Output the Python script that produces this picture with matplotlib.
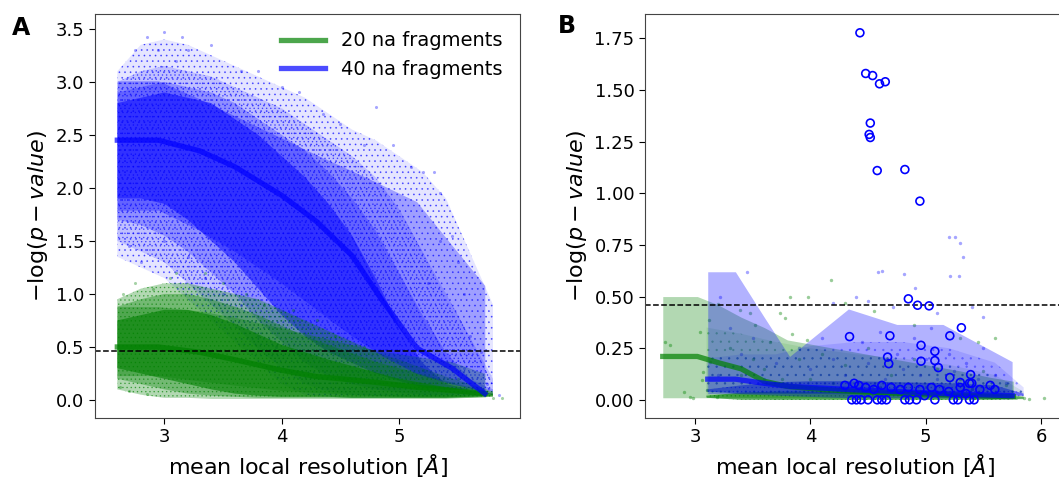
import matplotlib.pyplot as plt
from matplotlib.colors import to_rgb

# ---------------- panel A: binned summary curves ----------------
a_x = [2.60, 2.95, 3.30, 3.60, 4.00, 4.30, 4.60, 4.85, 5.15, 5.45, 5.73]
a_blue_mid = [2.45, 2.45, 2.35, 2.20, 1.93, 1.68, 1.36, 0.95, 0.49, 0.30, 0.06]
a_blue_lo = [1.79, 1.79, 1.60, 1.40, 1.10, 0.85, 0.60, 0.42, 0.25, 0.15, 0.08]
a_blue_hi = [3.01, 3.01, 2.84, 2.68, 2.47, 2.31, 2.16, 2.03, 1.87, 1.46, 1.08]
a_green_mid = [0.50, 0.50, 0.45, 0.38, 0.28, 0.22, 0.19, 0.16, 0.12, 0.09, 0.06]
a_green_lo = [0.23, 0.23, 0.18, 0.14, 0.09, 0.07, 0.05, 0.04, 0.03, 0.03, 0.03]
a_green_hi = [0.88, 0.88, 0.84, 0.78, 0.68, 0.60, 0.52, 0.46, 0.41, 0.36, 0.25]

cloud_x = [2.6, 2.8, 3.0, 3.2, 3.4, 3.6, 3.8, 4.0, 4.2, 4.4, 4.6, 4.8, 5.0, 5.2, 5.4, 5.6, 5.8]
a_blue_env = [
    ([1.35, 1.25, 1.15, 0.95, 0.75, 0.55, 0.35, 0.15, 0.05, 0.03, 0.02, 0.02, 0.02, 0.02, 0.02, 0.03, 0.05],
     [3.10, 3.35, 3.40, 3.35, 3.25, 3.15, 3.05, 2.95, 2.85, 2.70, 2.55, 2.45, 2.30, 2.15, 1.90, 1.40, 0.90]),
    ([1.50, 1.40, 1.30, 1.10, 0.90, 0.70, 0.48, 0.30, 0.15, 0.08, 0.05, 0.04, 0.03, 0.03, 0.03, 0.04, 0.06],
     [3.00, 3.10, 3.15, 3.10, 3.05, 2.95, 2.85, 2.75, 2.60, 2.45, 2.30, 2.10, 1.80, 1.40, 1.00, 0.60, 0.20]),
    ([1.70, 1.65, 1.55, 1.40, 1.20, 1.00, 0.75, 0.55, 0.35, 0.22, 0.15, 0.10, 0.07, 0.05, 0.05, 0.06, 0.08],
     [2.90, 2.95, 3.00, 2.95, 2.90, 2.80, 2.65, 2.50, 2.35, 2.15, 1.90, 1.60, 1.20, 0.80, 0.45, 0.20, 0.10]),
    ([1.90, 1.90, 1.85, 1.70, 1.50, 1.30, 1.05, 0.80, 0.60, 0.45, 0.35, 0.25, 0.18, 0.12, 0.10, 0.10, 0.10],
     [2.80, 2.85, 2.90, 2.85, 2.80, 2.65, 2.50, 2.30, 2.10, 1.85, 1.55, 1.15, 0.70, 0.35, 0.15, 0.10, 0.10]),
]
a_green_env = [
    ([0.10, 0.05, 0.02, 0.02, 0.01, 0.01, 0.01, 0.01, 0.01, 0.01, 0.01, 0.01, 0.01, 0.01, 0.01, 0.02, 0.03],
     [0.95, 1.05, 1.10, 1.10, 1.05, 1.00, 0.95, 0.85, 0.75, 0.65, 0.55, 0.45, 0.38, 0.30, 0.22, 0.15, 0.08]),
    ([0.20, 0.15, 0.10, 0.06, 0.04, 0.03, 0.02, 0.02, 0.02, 0.02, 0.02, 0.02, 0.02, 0.02, 0.02, 0.02, 0.03],
     [0.88, 0.95, 1.00, 1.00, 0.95, 0.88, 0.80, 0.70, 0.60, 0.52, 0.44, 0.36, 0.30, 0.24, 0.18, 0.12, 0.07]),
    ([0.30, 0.25, 0.20, 0.15, 0.10, 0.06, 0.04, 0.03, 0.03, 0.03, 0.02, 0.02, 0.02, 0.02, 0.02, 0.03, 0.04],
     [0.75, 0.80, 0.85, 0.85, 0.80, 0.72, 0.62, 0.52, 0.45, 0.38, 0.32, 0.26, 0.20, 0.16, 0.12, 0.09, 0.06]),
]
a_blue_env_alpha = [0.10, 0.16, 0.25, 0.50]
a_green_env_alpha = [0.30, 0.35, 0.60]

# panel A: isolated points at the cloud edges
a_blue_pts_x = [2.75, 2.85, 2.95, 3.00, 3.10, 3.20, 3.40, 3.15, 3.65, 3.80, 4.00, 4.15, 4.35, 4.50,
                4.70, 4.80, 4.95, 5.10, 5.20, 5.30, 5.35, 5.45, 5.50, 5.55, 5.35, 5.25, 5.60, 5.70,
                2.70, 2.80, 3.00, 3.20, 3.35, 3.50, 3.65, 3.80, 3.95, 5.55, 5.75, 5.85]
a_blue_pts_y = [3.30, 3.42, 3.30, 3.47, 3.20, 3.30, 3.35, 3.42, 3.10, 3.10, 2.95, 2.90, 2.70, 2.60,
                2.40, 2.76, 2.40, 2.20, 2.15, 2.15, 1.95, 1.55, 1.30, 1.00, 1.50, 1.10, 0.60, 0.45,
                1.45, 1.30, 1.50, 1.35, 1.15, 1.00, 0.90, 0.60, 0.50, 0.30, 0.15, 0.05]
a_green_pts_x = [2.65, 2.75, 2.90, 3.05, 3.10, 3.35, 3.50, 3.70, 3.85, 4.10, 4.30, 4.45, 4.70,
                 2.62, 2.70, 2.85, 5.80, 5.88, 5.50, 5.20]
a_green_pts_y = [1.00, 1.10, 1.05, 1.15, 1.20, 1.20, 1.10, 1.00, 0.90, 0.85, 0.75, 0.60, 0.50,
                 0.12, 0.08, 0.06, 0.02, 0.02, 0.20, 0.28]

# ---------------- panel B ----------------
b_green_x = [2.72, 3.02, 3.20, 3.40, 3.60, 3.80, 4.10, 4.40, 4.70, 5.00, 5.30, 5.55, 5.76]
b_green_mid = [0.21, 0.21, 0.18, 0.15, 0.09, 0.065, 0.05, 0.04, 0.033, 0.028, 0.022, 0.018, 0.015]
b_green_lo = [0.01] * 13
b_green_hi = [0.50, 0.50, 0.46, 0.40, 0.35, 0.29, 0.26, 0.23, 0.20, 0.17, 0.14, 0.11, 0.09]

b_blue_x = [3.11, 3.35, 3.60, 3.82, 4.33, 4.75, 5.15, 5.75]
b_blue_mid = [0.10, 0.10, 0.08, 0.065, 0.05, 0.04, 0.03, 0.02]
b_blue_lo = [0.03, 0.03, 0.025, 0.02, 0.01, 0.01, 0.01, 0.005]
b_blue_hi = [0.62, 0.62, 0.40, 0.21, 0.44, 0.365, 0.365, 0.185]

# panel B point clouds as envelopes: a loose haze and a dense strip near zero
haze_x = [3.1, 3.4, 3.7, 4.0, 4.4, 4.8, 5.2, 5.6, 5.85]
b_green_haze = ([0.01, 0.01, 0.0, 0.0, 0.0, 0.0, 0.0, 0.0, 0.0],
                [0.35, 0.32, 0.28, 0.25, 0.22, 0.20, 0.17, 0.12, 0.04])
b_blue_haze = ([0.04, 0.04, 0.03, 0.03, 0.02, 0.02, 0.02, 0.02, 0.02],
               [0.20, 0.22, 0.22, 0.26, 0.28, 0.28, 0.25, 0.18, 0.06])
b_green_strip = ([0.01, 0.0, 0.0, 0.0, 0.0, 0.0, 0.0, 0.0, 0.005],
                 [0.02, 0.035, 0.04, 0.04, 0.035, 0.035, 0.03, 0.025, 0.015])
b_blue_strip = ([0.04, 0.03, 0.03, 0.03, 0.03, 0.03, 0.025, 0.02, 0.02],
                [0.05, 0.07, 0.085, 0.09, 0.09, 0.085, 0.08, 0.07, 0.03])

b_blue_pts_x = [4.59, 4.62, 4.81, 4.91, 5.20, 5.255, 5.30, 5.32, 5.21, 5.29, 3.45, 4.50, 4.20, 4.40,
                4.72, 5.40, 5.50, 5.10, 3.22, 3.30, 3.50, 3.40, 3.70, 3.90, 4.00, 4.10, 4.20, 4.30,
                4.45, 4.50, 4.60, 4.65, 4.75, 4.80, 4.90, 4.95, 5.00, 5.05, 5.10, 5.20, 5.25, 5.35,
                5.45, 5.50, 5.60, 5.70, 3.20, 3.60, 3.80, 4.05, 4.25, 4.55, 4.85, 5.15, 5.40, 5.65]
b_blue_pts_y = [0.62, 0.625, 0.61, 0.54, 0.79, 0.79, 0.76, 0.69, 0.60, 0.60, 0.62, 0.48, 0.47, 0.50,
                0.45, 0.45, 0.40, 0.42, 0.50, 0.35, 0.30, 0.22, 0.18, 0.25, 0.15, 0.30, 0.20, 0.12,
                0.28, 0.18, 0.33, 0.10, 0.22, 0.15, 0.30, 0.12, 0.20, 0.35, 0.10, 0.22, 0.14, 0.18,
                0.10, 0.25, 0.12, 0.08, 0.12, 0.10, 0.08, 0.06, 0.05, 0.07, 0.04, 0.06, 0.05, 0.03]
b_green_pts_x = [2.74, 2.78, 3.04, 3.12, 2.90, 2.96, 2.98, 3.06, 3.07, 3.13, 3.10, 3.19, 3.20, 3.39,
                 3.48, 3.52, 3.74, 3.78, 3.98, 3.82, 3.97, 3.84, 4.18, 4.30, 4.55, 4.90, 5.30, 5.45,
                 5.60, 3.30, 3.50, 3.65, 3.90, 4.10, 4.30, 4.50, 4.70, 4.90, 5.10, 5.30, 5.50, 5.70,
                 3.40, 3.60, 3.75, 4.00, 4.20, 4.60, 5.00, 5.40, 5.85, 6.03, 5.90]
b_green_pts_y = [0.278, 0.265, 0.33, 0.386, 0.04, 0.014, 0.01, 0.096, 0.137, 0.185, 0.048, 0.016, 0.466, 0.434,
                 0.418, 0.36, 0.42, 0.395, 0.50, 0.50, 0.29, 0.32, 0.58, 0.47, 0.43, 0.36, 0.30, 0.28,
                 0.30, 0.25, 0.20, 0.28, 0.20, 0.22, 0.17, 0.25, 0.12, 0.20, 0.15, 0.10, 0.14, 0.07,
                 0.12, 0.15, 0.10, 0.10, 0.08, 0.06, 0.06, 0.05, 0.01, 0.01, 0.005]

# highlighted (circled) fragments in panel B
b_circ_x = [4.43, 4.48, 4.54, 4.60, 4.65, 4.52, 4.51, 4.52, 4.58, 4.82, 4.95, 4.85, 4.93, 5.03,
            4.34, 4.69, 5.21, 5.31, 4.96, 5.08, 4.67, 4.68, 4.96, 5.08, 5.11, 5.21, 5.39, 5.30, 5.38,
            4.36, 4.40, 4.44, 4.50, 4.58, 4.62, 4.66, 4.82, 4.86, 4.92, 5.08, 5.24, 5.28, 5.38, 5.42,
            4.30, 4.38, 4.42, 4.48, 4.55, 4.62, 4.70, 4.78, 4.85, 4.95, 5.05, 5.12, 5.20, 5.30, 5.40,
            5.47, 5.56, 5.60, 5.35, 4.99]
b_circ_y = [1.777, 1.58, 1.57, 1.53, 1.54, 1.34, 1.285, 1.27, 1.11, 1.115, 0.962, 0.489, 0.458, 0.455,
            0.306, 0.31, 0.31, 0.349, 0.264, 0.235, 0.207, 0.175, 0.187, 0.19, 0.156, 0.108, 0.122, 0.084, 0.08,
            0.0, 0.0, 0.0, 0.0, 0.0, 0.0, 0.0, 0.0, 0.0, 0.0, 0.0, 0.0, 0.0, 0.0, 0.0,
            0.07, 0.08, 0.07, 0.06, 0.05, 0.07, 0.06, 0.05, 0.06, 0.05, 0.06, 0.05, 0.04, 0.06, 0.08,
            0.05, 0.07, 0.05, 0.03, 0.02]

threshold = 0.46


def tier(ax, x, lo, hi, color, alpha, hatch=None, dot_alpha=0.55):
    # one density level of a point cloud; hatch dots give the speckle
    rgb = to_rgb(color)
    with plt.rc_context({"hatch.color": (*rgb, dot_alpha), "hatch.linewidth": 0.5}):
        ax.fill_between(x, lo, hi, facecolor=(*rgb, alpha), edgecolor="none",
                        linewidth=0, hatch=hatch)


plt.rcParams["font.family"] = "DejaVu Sans"
fig = plt.figure(figsize=(10.59, 4.78), dpi=100)
axA = fig.add_axes([95 / 1059, 60 / 478, 425 / 1059, 404 / 478])
axB = fig.add_axes([645 / 1059, 60 / 478, 419 / 1059, 404 / 478])

# ---- panel A
hatches = ["...", "....", None, None]
for (lo, hi), al, h in zip(a_blue_env, a_blue_env_alpha, hatches):
    tier(axA, cloud_x, lo, hi, "b", al, h)
axA.scatter(a_blue_pts_x, a_blue_pts_y, s=5, color="b", alpha=0.35, linewidths=0)
for (lo, hi), al, h in zip(a_green_env, a_green_env_alpha, ["....", None, None]):
    tier(axA, cloud_x, lo, hi, "g", al, h)
axA.scatter(a_green_pts_x, a_green_pts_y, s=5, color="g", alpha=0.35, linewidths=0)

axA.fill_between(a_x, a_green_lo, a_green_hi, color="g", alpha=0.3, linewidth=0)
axA.fill_between(a_x, a_blue_lo, a_blue_hi, color="b", alpha=0.3, linewidth=0)
axA.plot(a_x, a_green_mid, color="g", lw=3.8, alpha=0.7, label="20 na fragments")
axA.plot(a_x, a_blue_mid, color="b", lw=3.8, alpha=0.7, label="40 na fragments")
axA.axhline(threshold, color="k", ls="--", lw=1.1)

axA.set_xlim(2.41, 6.03)
axA.set_ylim(-0.17, 3.64)
axA.set_xticks([3, 4, 5])
axA.set_yticks([0.0, 0.5, 1.0, 1.5, 2.0, 2.5, 3.0, 3.5])
axA.legend(loc="upper right", frameon=False, fontsize=14, handlelength=2.3,
           borderaxespad=0.5)

# ---- panel B
tier(axB, haze_x, *b_green_haze, "g", 0.10, "..", dot_alpha=0.3)
tier(axB, haze_x, *b_blue_haze, "b", 0.12, "..", dot_alpha=0.3)
axB.scatter(b_green_pts_x, b_green_pts_y, s=6, color="g", alpha=0.4, linewidths=0)
axB.scatter(b_blue_pts_x, b_blue_pts_y, s=6, color="b", alpha=0.35, linewidths=0)
tier(axB, haze_x, *b_green_strip, "g", 0.60, "....")
tier(axB, haze_x, *b_blue_strip, "b", 0.50, "....")
axB.fill_between(b_green_x, b_green_lo, b_green_hi, color="g", alpha=0.3, linewidth=0)
axB.fill_between(b_blue_x, b_blue_lo, b_blue_hi, color="b", alpha=0.3, linewidth=0)
axB.plot(b_green_x, b_green_mid, color="g", lw=3.8, alpha=0.7)
axB.plot(b_blue_x, b_blue_mid, color="b", lw=3.8, alpha=0.7)
axB.scatter(b_circ_x, b_circ_y, s=32, facecolors="none", edgecolors="b", linewidths=1.2, zorder=4)
axB.axhline(threshold, color="k", ls="--", lw=1.1)

axB.set_xlim(2.566, 6.2)
axB.set_ylim(-0.088, 1.868)
axB.set_xticks([3, 4, 5, 6])
axB.set_yticks([0.0, 0.25, 0.5, 0.75, 1.0, 1.25, 1.5, 1.75])
axB.set_yticklabels(["0.00", "0.25", "0.50", "0.75", "1.00", "1.25", "1.50", "1.75"])

for ax in (axA, axB):
    ax.tick_params(labelsize=13, length=4)
    ax.set_xlabel(r"mean local resolution [$\AA$]", fontsize=16)
    ax.set_ylabel(r"$-\log(p-value)$", fontsize=16, labelpad=4)
    for s in ax.spines.values():
        s.set_color("#444444")

fig.text(12 / 1059, 1 - 28 / 478, "A", fontsize=17, fontweight="bold", va="center")
fig.text(558 / 1059, 1 - 26 / 478, "B", fontsize=17, fontweight="bold", va="center")

fig.savefig("out.png", dpi=100)
